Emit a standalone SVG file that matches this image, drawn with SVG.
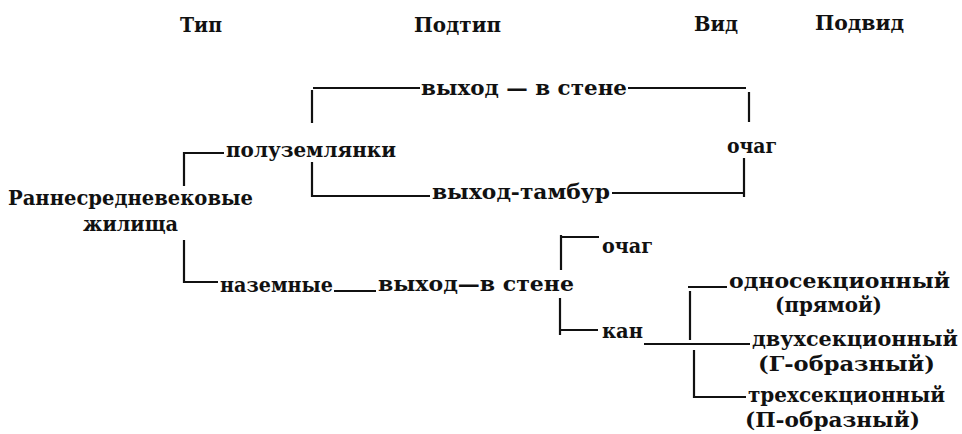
<svg xmlns="http://www.w3.org/2000/svg" width="962" height="434" viewBox="0 0 962 434">
<style>
.h{font-family:"DejaVu Serif","Liberation Serif",serif;font-size:21px;font-weight:bold;fill:#111}
.t{font-family:"DejaVu Serif","Liberation Serif",serif;font-size:21px;font-weight:bold;fill:#111}
.c line{stroke:#111;stroke-width:2.2;stroke-linecap:butt}
</style>
<rect width="962" height="434" fill="#fff"/>
<g id="headers">
<text class="h" x="180" y="32" textLength="42" lengthAdjust="spacingAndGlyphs">Тип</text>
<text class="h" x="414" y="32" textLength="87" lengthAdjust="spacingAndGlyphs">Подтип</text>
<text class="h" x="694" y="31" textLength="44" lengthAdjust="spacingAndGlyphs">Вид</text>
<text class="h" x="815" y="30" textLength="89" lengthAdjust="spacingAndGlyphs">Подвид</text>
</g>
<g class="c" id="connectors">
<line x1="312" y1="90" x2="312" y2="123"/>
<line x1="313" y1="88" x2="420" y2="88"/>
<line x1="628" y1="88" x2="746" y2="88"/>
<line x1="749" y1="92" x2="749" y2="122"/>
<line x1="744" y1="158" x2="744" y2="197"/>
<line x1="612" y1="193" x2="743" y2="193"/>
<line x1="312" y1="162" x2="312" y2="197"/>
<line x1="311" y1="196" x2="430" y2="196"/>
<line x1="184" y1="152" x2="184" y2="186"/>
<line x1="183" y1="153" x2="224" y2="153"/>
<line x1="184" y1="240" x2="184" y2="283"/>
<line x1="183" y1="282" x2="218" y2="282"/>
<line x1="334" y1="291" x2="376" y2="291"/>
<line x1="561" y1="235" x2="561" y2="270"/>
<line x1="560" y1="237" x2="599" y2="237"/>
<line x1="560" y1="298" x2="560" y2="335"/>
<line x1="561" y1="330" x2="598" y2="330"/>
<line x1="644" y1="344" x2="750" y2="344"/>
<line x1="690" y1="291" x2="690" y2="340"/>
<line x1="688" y1="287" x2="727" y2="287"/>
<line x1="694" y1="350" x2="694" y2="398"/>
<line x1="693" y1="397" x2="746" y2="397"/>
</g>
<g id="n-root">
<text class="t" x="8" y="205" textLength="245" lengthAdjust="spacingAndGlyphs">Раннесредневековые</text>
<text class="t" x="83" y="231" textLength="95" lengthAdjust="spacingAndGlyphs">жилища</text>
</g>
<g id="n-poluzemlyanki"><text class="t" x="226" y="157" textLength="170" lengthAdjust="spacingAndGlyphs">полуземлянки</text></g>
<g id="n-nazemnye"><text class="t" x="220" y="292" textLength="113" lengthAdjust="spacingAndGlyphs">наземные</text></g>
<g id="n-vyhod-stena-1"><text class="t" x="421" y="95" textLength="206" lengthAdjust="spacingAndGlyphs">выход — в стене</text></g>
<g id="n-vyhod-tambur"><text class="t" x="432" y="199" textLength="178" lengthAdjust="spacingAndGlyphs">выход-тамбур</text></g>
<g id="n-ochag-1"><text class="t" x="727" y="153" textLength="50" lengthAdjust="spacingAndGlyphs">очаг</text></g>
<g id="n-vyhod-stena-2"><text class="t" x="378" y="291" textLength="196" lengthAdjust="spacingAndGlyphs">выход—в стене</text></g>
<g id="n-ochag-2"><text class="t" x="602" y="253" textLength="51" lengthAdjust="spacingAndGlyphs">очаг</text></g>
<g id="n-kan"><text class="t" x="602" y="338" textLength="41" lengthAdjust="spacingAndGlyphs">кан</text></g>
<g id="n-odno">
<text class="t" x="729" y="288" textLength="221" lengthAdjust="spacingAndGlyphs">односекционный</text>
<text class="t" x="775" y="312" textLength="107" lengthAdjust="spacingAndGlyphs">(прямой)</text>
</g>
<g id="n-dvuh">
<text class="t" x="752" y="346" textLength="206" lengthAdjust="spacingAndGlyphs">двухсекционный</text>
<text class="t" x="758" y="371" textLength="177" lengthAdjust="spacingAndGlyphs">(Г-образный)</text>
</g>
<g id="n-treh">
<text class="t" x="748" y="402" textLength="197" lengthAdjust="spacingAndGlyphs">трехсекционный</text>
<text class="t" x="745" y="427" textLength="175" lengthAdjust="spacingAndGlyphs">(П-образный)</text>
</g>
</svg>
